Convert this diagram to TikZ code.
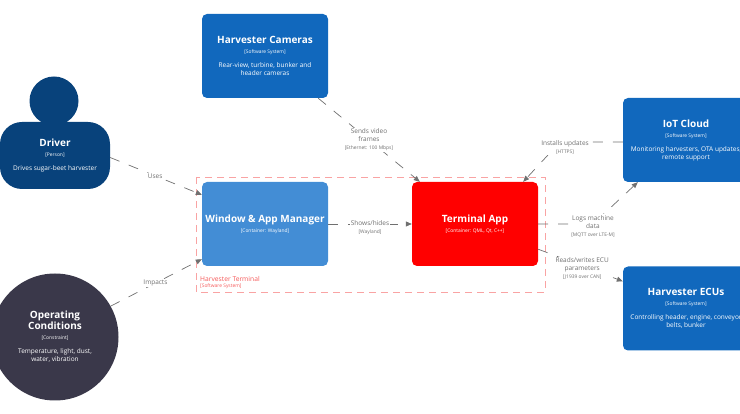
\documentclass[tikz,border=0pt]{standalone}
\usepackage{fontspec}
\setmainfont{Open Sans}
\usepackage{tikz}
\usetikzlibrary{positioning,arrows.meta}

\definecolor{extblue}{HTML}{1168BD}
\definecolor{contblue}{HTML}{438DD5}
\definecolor{appred}{HTML}{FF0000}
\definecolor{personblue}{HTML}{08427B}
\definecolor{constgray}{HTML}{3A384A}
\definecolor{relgray}{HTML}{707070}
\definecolor{bndline}{HTML}{F9A3A3}
\definecolor{bndtext}{HTML}{F55A5A}

\newcommand{\titlefont}{\bfseries\fontsize{10}{12}\selectfont}
\newcommand{\subfont}{\fontsize{4.9}{6}\selectfont}
\newcommand{\descfont}{\fontsize{6.5}{8}\selectfont}
\newcommand{\elem}[3]{{\titlefont #1}\\[2pt]{\subfont[#2]}\\[6pt]#3}
\newcommand{\contelem}[2]{{\titlefont #1}\\[2pt]{\subfont[#2]}}
\newcommand{\tech}[1]{{\subfont[#1]}}

\begin{document}
\begin{tikzpicture}[x = 1pt, y = -1pt,
    box/.style = { draw = none, rounded corners = 5pt, align = center, text = white,
      minimum width = 126pt, minimum height = 84pt, inner sep = 0pt, font = \descfont },
    rel/.style = { draw = relgray, line width = .7pt, dash pattern = on 10pt off 10pt,
      -{Triangle[length = 6pt, width = 5pt]} },
    lbl/.style = { fill = white, text = relgray, align = center, inner sep = 1pt, font = \descfont }]
  \useasboundingbox (0,0) rectangle (740,414);

  % people and constraints
  \node [circle, fill = personblue, minimum size = 49pt] (driverhead) at (54,101) {};
  \node [box, fill = personblue, minimum width = 110pt, minimum height = 67pt,
    rounded corners = 22pt] (driver) at (55,155.5)
    { \elem{Driver}{Person}{Drives sugar-beet harvester} };
  \node [box, shape = circle, fill = constgray, minimum size = 127pt] (cond) at (55,337)
    { {\titlefont Operating}\\{\titlefont Conditions}\\[2pt]{\subfont[Constraint]}\\[6pt]Temperature, light, dust,\\water, vibration };

  % system boundary
  \draw [bndline, line width = .8pt, dash pattern = on 7pt off 5pt] (196,177) rectangle (545,292);
  \node [anchor = west, inner sep = 0pt, text = bndtext, font = \fontsize{6.7}{8}\selectfont] (termname) at (200,279) { Harvester Terminal };
  \node [below = 2pt of termname.south west, anchor = north west, inner sep = 0pt,
    text = bndtext, font = \subfont] (termtype) { [Software System] };

  % containers
  \node [box, fill = contblue] (wam) at (265,224) { \contelem{Window \& App Manager}{Container: Wayland} };
  \node [box, fill = appred] (app) at (475,224) { \contelem{Terminal App}{Container: QML, Qt, C++} };

  % external systems
  \node [box, fill = extblue] (cams) at (265,56)
    { \elem{Harvester Cameras}{Software System}{Rear-view, turbine, bunker and\\header cameras} };
  \node [box, fill = extblue] (iot) at (686,140)
    { \elem{IoT Cloud}{Software System}{Monitoring harvesters, OTA updates,\\remote support} };
  \node [box, fill = extblue] (ecu) at (686,308.5)
    { \elem{Harvester ECUs}{Software System}{Controlling header, engine, conveyor\\belts, bunker} };

  % relations
  \draw [rel] ([yshift = -2pt]driver.east) -- ([yshift = -13pt]wam.north west)
    node [lbl, midway] (uses) { Uses };
  \draw [rel] (cond.29) -- ([yshift = 7pt]wam.south west)
    node [lbl, midway] (impacts) { Impacts };
  \draw [rel] ([xshift = -10pt]cams.south east) -- ([xshift = 8pt]app.north west)
    node [lbl, midway] (sends) { Sends video\\frames\\\tech{Ethernet: 100 Mbps} };
  \draw [rel] (wam.east) -- (app.west)
    node [lbl, midway, yshift = -4pt] (shows) { Shows/hides\\\tech{Wayland} };

  \coordinate (iotbend) at (560,142);
  \draw [rel] ([yshift = -2pt]iot.west) -- (iotbend) -- ([xshift = -15pt]app.north east);
  \node [lbl] (installs) at (565,147) { Installs updates\\\tech{HTTPS} };

  \coordinate (logbend) at (593,224);
  \draw [rel] (app.east) -- (logbend) -- ([xshift = 15pt]iot.south west);
  \node [lbl] (logs) at (593,226) { Logs machine\\data\\\tech{MQTT over LTE-M} };

  \draw [rel] ([yshift = 17pt]app.south east) -- ([yshift = -15pt]ecu.north west)
    node [lbl, pos = .52, yshift = -3pt] (reads) { Reads/writes ECU\\parameters\\\tech{J1939 over CAN} };
\end{tikzpicture}
\end{document}
